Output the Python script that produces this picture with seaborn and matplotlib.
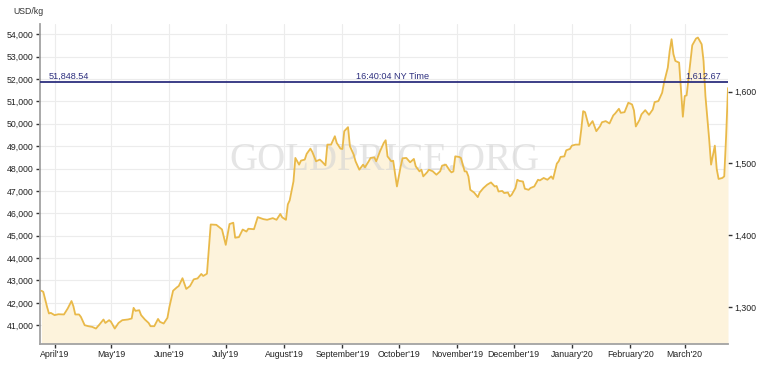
import matplotlib
matplotlib.use("Agg")
import pandas as pd
import seaborn as sns
import matplotlib.pyplot as plt
from matplotlib.ticker import FuncFormatter

# gold price, USD per kg
dates = [
    "2019-03-25", "2019-03-26", "2019-03-28", "2019-03-29", "2019-03-30",
    "2019-04-01", "2019-04-03", "2019-04-06", "2019-04-08", "2019-04-10", "2019-04-11", "2019-04-12",
    "2019-04-14", "2019-04-15", "2019-04-17", "2019-04-19", "2019-04-21", "2019-04-23", "2019-04-25",
    "2019-04-27", "2019-04-28", "2019-04-30",
    "2019-05-01", "2019-05-03", "2019-05-05", "2019-05-07", "2019-05-10", "2019-05-12", "2019-05-13",
    "2019-05-14", "2019-05-16", "2019-05-17", "2019-05-19", "2019-05-21", "2019-05-22", "2019-05-24",
    "2019-05-26", "2019-05-27", "2019-05-29", "2019-05-31",
    "2019-06-01", "2019-06-03", "2019-06-05", "2019-06-06", "2019-06-08", "2019-06-10", "2019-06-12",
    "2019-06-14", "2019-06-16", "2019-06-18", "2019-06-19", "2019-06-21", "2019-06-23", "2019-06-26",
    "2019-06-28", "2019-06-29",
    "2019-07-01", "2019-07-03", "2019-07-05", "2019-07-06", "2019-07-08", "2019-07-10", "2019-07-12",
    "2019-07-13", "2019-07-16", "2019-07-18", "2019-07-21", "2019-07-23", "2019-07-26", "2019-07-28",
    "2019-07-30", "2019-07-31",
    "2019-08-02", "2019-08-03", "2019-08-04", "2019-08-06", "2019-08-07", "2019-08-09", "2019-08-10",
    "2019-08-12", "2019-08-13", "2019-08-15", "2019-08-16", "2019-08-18", "2019-08-20", "2019-08-21",
    "2019-08-23", "2019-08-24", "2019-08-26", "2019-08-28", "2019-08-29", "2019-08-31",
    "2019-09-01", "2019-09-02", "2019-09-04", "2019-09-05", "2019-09-07", "2019-09-08", "2019-09-10",
    "2019-09-12", "2019-09-13", "2019-09-15", "2019-09-16", "2019-09-18", "2019-09-19", "2019-09-21",
    "2019-09-23", "2019-09-24", "2019-09-25", "2019-09-27", "2019-09-28", "2019-09-30",
    "2019-10-02", "2019-10-03", "2019-10-05", "2019-10-07", "2019-10-09", "2019-10-10", "2019-10-12",
    "2019-10-13", "2019-10-14", "2019-10-16", "2019-10-17", "2019-10-19", "2019-10-21", "2019-10-23",
    "2019-10-24", "2019-10-26", "2019-10-28", "2019-10-29", "2019-10-30", "2019-10-31",
    "2019-11-02", "2019-11-03", "2019-11-05", "2019-11-06", "2019-11-07", "2019-11-08", "2019-11-10",
    "2019-11-12", "2019-11-13", "2019-11-15", "2019-11-17", "2019-11-19", "2019-11-21", "2019-11-22",
    "2019-11-23", "2019-11-25", "2019-11-26", "2019-11-28", "2019-11-29", "2019-11-30",
    "2019-12-02", "2019-12-03", "2019-12-04", "2019-12-06", "2019-12-07", "2019-12-09", "2019-12-10",
    "2019-12-12", "2019-12-14", "2019-12-15", "2019-12-17", "2019-12-19", "2019-12-21", "2019-12-22",
    "2019-12-24", "2019-12-25", "2019-12-26", "2019-12-28", "2019-12-29", "2019-12-31",
    "2020-01-01", "2020-01-03", "2020-01-05", "2020-01-06", "2020-01-07", "2020-01-08", "2020-01-10",
    "2020-01-12", "2020-01-14", "2020-01-16", "2020-01-17", "2020-01-19", "2020-01-21", "2020-01-23",
    "2020-01-24", "2020-01-26", "2020-01-27", "2020-01-29", "2020-01-31",
    "2020-02-02", "2020-02-03", "2020-02-04", "2020-02-06", "2020-02-07", "2020-02-09", "2020-02-11",
    "2020-02-13", "2020-02-14", "2020-02-16", "2020-02-18", "2020-02-19", "2020-02-21", "2020-02-22",
    "2020-02-23", "2020-02-24", "2020-02-25", "2020-02-27", "2020-02-29",
    "2020-03-01", "2020-03-02", "2020-03-04", "2020-03-05", "2020-03-07", "2020-03-08", "2020-03-10",
    "2020-03-11", "2020-03-12", "2020-03-14", "2020-03-15", "2020-03-17", "2020-03-18", "2020-03-19",
    "2020-03-21", "2020-03-22", "2020-03-23", "2020-03-24",
]
prices = [
    42540, 42490, 41820, 41525, 41550,
    41450, 41490, 41480, 41750, 42080, 41850, 41480, 41480, 41370, 41000, 40955, 40925, 40850, 41045,
    41255, 41100, 41225,
    41150, 40850, 41100, 41225, 41255, 41300, 41775, 41640, 41670, 41450, 41255, 41100, 40955, 40955,
    41280, 41150, 41075, 41330,
    41800, 42540, 42690, 42750, 43100, 42620, 42750, 43050, 43090, 43290, 43200, 43300, 45500, 45485,
    45350, 45280,
    44590, 45520, 45580, 44910, 44935, 45275, 45185, 45310, 45290, 45830, 45740, 45710, 45785, 45710,
    45970, 45820,
    45710, 46400, 46580, 47425, 48475, 48175, 48355, 48400, 48655, 48890, 48745, 48325, 48400, 48325,
    48145, 49070, 49070, 49445, 49145, 48890,
    48875, 49670, 49850, 49000, 48625, 48325, 47950, 48175, 48055, 48325, 48475, 48500, 48325, 48770,
    49145, 49265, 48545, 48325, 48350, 47200,
    48100, 48460, 48475, 48280, 48430, 48100, 47875, 47950, 47650, 47830, 47950, 47880, 47725, 47880,
    48130, 48175, 47920, 47830, 47870, 48545,
    48520, 48475, 47875, 47870, 47650, 47050, 46930, 46725, 46930, 47130, 47280, 47380, 47200, 47220,
    46975, 47000, 46905, 46930, 46755, 46830,
    47130, 47500, 47450, 47420, 47100, 47050, 47130, 47200, 47500, 47470, 47580, 47500, 47650, 47535,
    48220, 48325, 48520, 48545, 48815, 48880,
    49025, 49070, 49070, 49745, 50565, 50520, 49895, 50120, 49670, 49895, 50070, 50120, 50015, 50375,
    50460, 50670, 50490, 50520, 50940,
    50865, 50600, 49880, 50180, 50420, 50610, 50400, 50640, 50970, 51015, 51390, 51840, 52510, 53255,
    53780, 53110, 52810, 52735, 50315,
    51240, 51270, 52735, 53510, 53810, 53855, 53555, 52810, 51240, 49300, 48175, 49025, 47980, 47535,
    47580, 47650, 49445, 51600,
]

month_ticks = ["2019-04-01", "2019-05-01", "2019-06-01", "2019-07-01", "2019-08-01", "2019-09-01",
               "2019-10-01", "2019-11-01", "2019-12-01", "2020-01-01", "2020-02-01", "2020-03-01"]
month_labels = ["April'19", "May'19", "June'19", "July'19", "August'19", "September'19",
                "October'19", "November'19", "December'19", "January'20", "February'20", "March'20"]
kg_ticks = list(range(41000, 54001, 1000))
oz_ticks = [1300, 1400, 1500, 1600]

current_kg = 51848.54
current_oz = 1612.67
current_time = "16:40:04 NY Time"
OZ_PER_KG = 32.1507466

LINE = "#e9b949"
FILL = "#fdf3dc"
NAVY = "#2d2f7e"
YMIN, YMAX = 40160, 54460
FS = 6.3

df = pd.DataFrame({"date": pd.to_datetime(dates), "price": prices})

sns.set_style("white")
plt.rcParams["font.family"] = ["Liberation Sans", "DejaVu Sans"]

fig = plt.figure(figsize=(7.64, 3.77), dpi=100)
ax = fig.add_axes([40 / 764, 33 / 377, 688 / 764, 320 / 377])

ax.fill_between(df["date"], df["price"], YMIN, color=FILL, linewidth=0, zorder=1)
ax.text(0.5, 0.575, "GOLDPRICE.ORG", transform=ax.transAxes, ha="center", va="center",
        fontsize=28, family="Liberation Serif", color="#d4d4d4", alpha=0.6, zorder=2)
sns.lineplot(data=df, x="date", y="price", ax=ax, color=LINE, linewidth=1.3, zorder=3)

ax.axhline(current_kg, color=NAVY, linewidth=1.3, zorder=4)
yt = ax.get_yaxis_transform()
ax.text(0.012, current_kg + 60, f"{current_kg:,.2f}", transform=yt, ha="left", va="bottom",
        fontsize=6.6, color=NAVY)
ax.text(0.512, current_kg + 60, current_time, transform=yt, ha="center", va="bottom",
        fontsize=6.6, color=NAVY)
ax.text(0.99, current_kg + 60, f"{current_oz:,.2f}", transform=yt, ha="right", va="bottom",
        fontsize=6.6, color=NAVY)

ax.set_xlim(pd.Timestamp("2019-03-24 06:00"), pd.Timestamp("2020-03-24"))
ax.set_ylim(YMIN, YMAX)
ax.set_xticks(pd.to_datetime(month_ticks))
ax.set_xticklabels(month_labels)
ax.set_yticks(kg_ticks)
ax.yaxis.set_major_formatter(FuncFormatter(lambda v, p: f"{v:,.0f}"))
ax.set_xlabel("")
ax.set_ylabel("")

ax.grid(True, color="#ececec", linewidth=0.8)
ax.set_axisbelow(True)
for s in ["top", "right"]:
    ax.spines[s].set_visible(False)
for s in ["left", "bottom"]:
    ax.spines[s].set_color("#a3a3a3")
    ax.spines[s].set_linewidth(1.3)
ax.tick_params(axis="both", which="both", bottom=True, left=True, direction="out", length=3,
               width=1, color="#333333", labelsize=FS, labelcolor="#222222", pad=1.5)

sec = ax.secondary_yaxis("right", functions=(lambda v: v / OZ_PER_KG, lambda v: v * OZ_PER_KG))
sec.set_yticks(oz_ticks)
sec.yaxis.set_major_formatter(FuncFormatter(lambda v, p: f"{v:,.0f}"))
sec.spines["right"].set_visible(False)
sec.tick_params(axis="y", right=True, direction="out", length=3, width=1, color="#333333",
                labelsize=FS, labelcolor="#222222", pad=1.5)

fig.text(13 / 764, 1 - 11 / 377, "USD/kg", ha="left", va="center", fontsize=6.3, color="#333333")

fig.savefig("out.png", dpi=100)
